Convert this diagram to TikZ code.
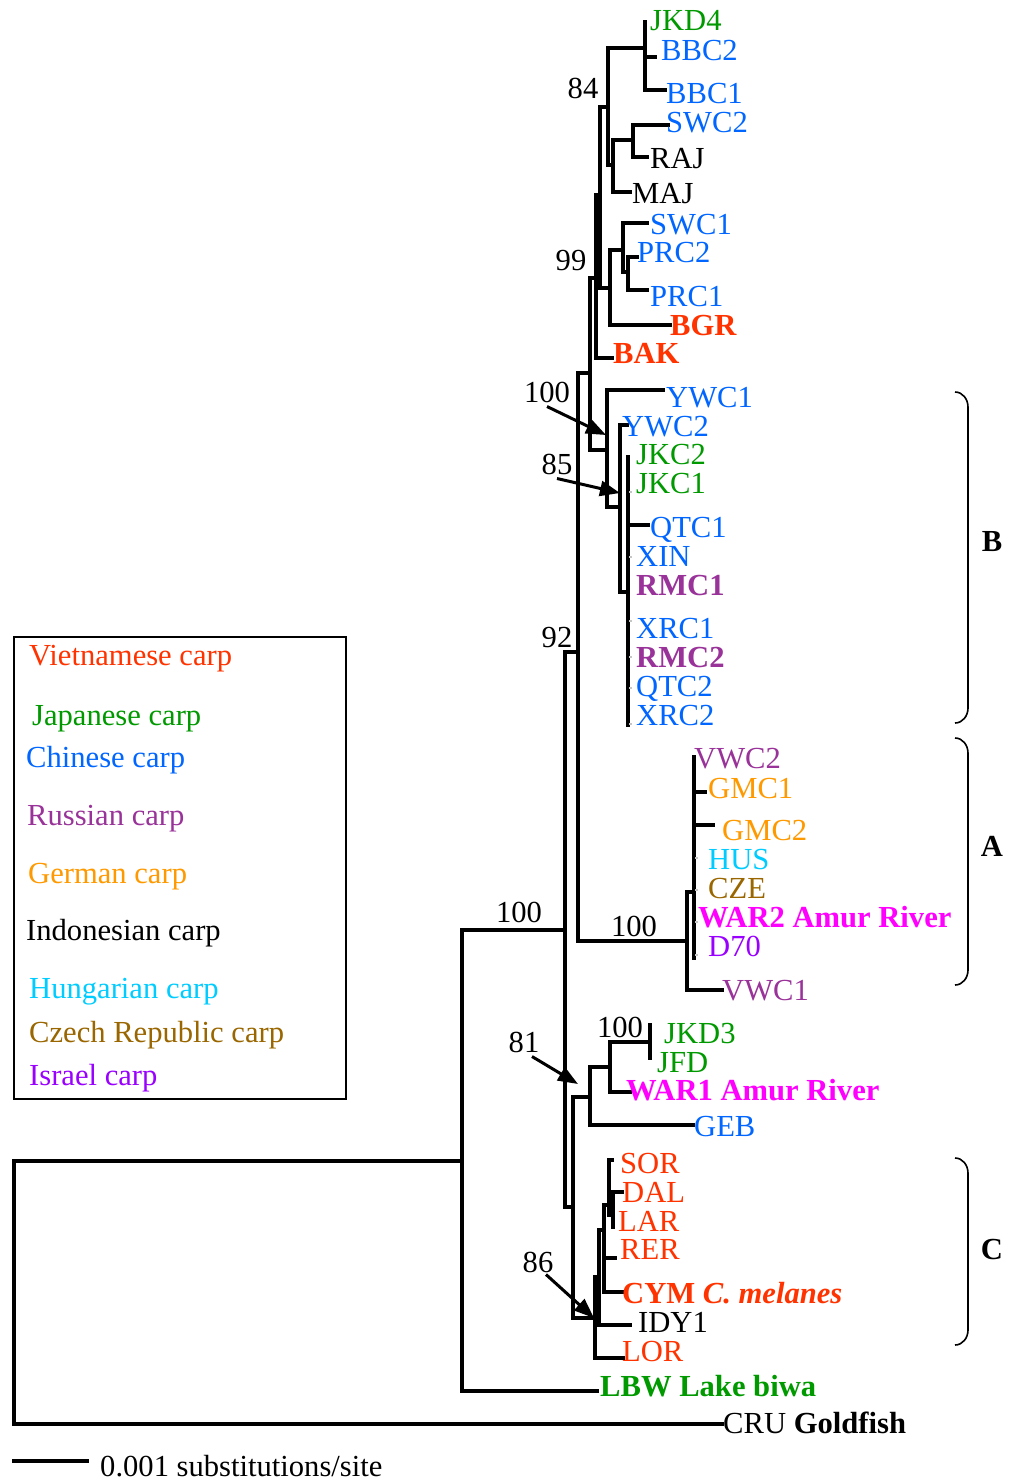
\documentclass[tikz,border=0pt]{standalone}
\usepackage{fontspec}
\setmainfont{Liberation Serif}
\usetikzlibrary{arrows.meta,positioning}

\definecolor{vietred}{HTML}{FF3300}
\definecolor{japgreen}{HTML}{009900}
\definecolor{chiblue}{HTML}{0066FF}
\definecolor{ruspurple}{HTML}{993399}
\definecolor{gerorange}{HTML}{FF9900}
\definecolor{hungcyan}{HTML}{00CCFF}
\definecolor{czebrown}{HTML}{996600}
\definecolor{isrviolet}{HTML}{9900FF}
\definecolor{amurmag}{HTML}{FF00FF}

\newcommand{\treefont}{\fontsize{30.6}{35}\selectfont}

\tikzset{
  branch/.style={line width=3.5pt, line cap=rect},
  zerotick/.style={draw=gray!45, line width=1.6pt},
  tip/.style={anchor=base west, inner sep=0pt, font=\treefont},
  boldtip/.style={tip, font=\treefont\bfseries},
  boot/.style={anchor=base, inner sep=0pt, font=\treefont},
  legtext/.style={anchor=base west, inner sep=0pt, font=\treefont},
  cladebrace/.style={line width=1.6pt},
  cladeletter/.style={anchor=base, inner sep=0pt, font=\treefont\bfseries},
  bootarrow/.style={line width=3pt, -{Triangle[length=20pt,width=15pt]}}
}

\begin{document}
\begin{tikzpicture}[x=1pt, y=-1pt, font=\treefont]
  \useasboundingbox (0,0) rectangle (1015,1481);

  % Legend
  \draw[line width=2pt] (14,637) rectangle (346,1099);
  \node[legtext, text=vietred] (lgviet) at (29,665) {Vietnamese carp};
  \node[legtext, text=japgreen] (lgjap) at (32,725) {Japanese carp};
  \node[legtext, text=chiblue] (lgchi) at (26,767) {Chinese carp};
  \node[legtext, text=ruspurple] (lgrus) at (27,825) {Russian carp};
  \node[legtext, text=gerorange] (lgger) at (28,883) {German carp};
  \node[legtext, text=black] (lgind) at (26,940) {Indonesian carp};
  \node[legtext, text=hungcyan] (lghun) at (29,998) {Hungarian carp};
  \node[legtext, text=czebrown] (lgcze) at (29,1042) {Czech Republic carp};
  \node[legtext, text=isrviolet] (lgisr) at (29,1085) {Israel carp};

  % Backbone
  \draw[branch] (462,1161) -| (14,1424) -- (722,1424);
  \draw[branch] (565,930) -| (462,1391) -- (597,1391);
  \draw[branch] (578,652) -| (565,1207) -- (573,1207);
  \draw[branch] (590,373) -| (578,941) -- (687,941);

  % Upper clade
  \draw[branch] (596,278) -| (590,450) -- (607,450);
  \draw[branch] (600,195) -| (596,358) -- (612,358);
  \draw[branch] (608,107) -| (600,288) -- (610,288);
  \draw[branch] (645,48) -| (608,165) -- (613,165);
  \draw[branch] (645,22) -- (645,90) -- (665,90);
  \draw[branch] (645,57) -- (655,57);
  \draw[branch] (633,140) -| (613,192) -- (630,192);
  \draw[branch] (668,125) -| (633,157) -- (647,157);
  \draw[branch] (623,250) -| (610,325) -- (670,325);
  \draw[branch] (647,223) -| (623,272) -- (628,272);
  \draw[branch] (637,257) -| (628,290) -- (647,290);

  % Clade B
  \draw[branch] (663,390) -| (607,507) -- (620,507);
  \draw[branch] (627,425) -| (620,592) -- (628,592);
  \draw[branch] (628,457) -- (628,725);
  \draw[branch] (628,525) -- (648,525);
  \foreach \yy in {492,557,621,657,688,724}
    \draw[zerotick] (629,\yy) -- (632,\yy);

  % Clade A
  \draw[branch] (694,892) -| (687,990) -- (722,990);
  \draw[branch] (694,757) -- (694,958);
  \draw[branch] (694,792) -- (705,792);
  \draw[branch] (694,825) -- (713,825);
  \foreach \yy in {858,890,922,955}
    \draw[zerotick] (695,\yy) -- (698,\yy);

  % Lower clade and clade C
  \draw[branch] (590,1097) -| (573,1318) -- (595,1318);
  \draw[branch] (610,1067) -| (590,1125) -- (693,1125);
  \draw[branch] (650,1042) -| (610,1092) -- (630,1092);
  \draw[branch] (650,1025) -- (650,1058);
  \draw[branch] (599,1277) -| (595,1358) -- (623,1358);
  \draw[branch] (604,1230) -| (599,1325) -- (630,1325);
  \draw[branch] (609,1205) -| (604,1292) -- (622,1292);
  \draw[branch] (604,1258) -- (615,1258);
  \draw[branch] (612,1160) -| (609,1215);
  \draw[branch] (609,1210) -- (613,1210);
  \draw[branch] (622,1192) -| (613,1227);

  % Tip labels
  \node[tip, text=japgreen] (jkdfour) at (650,30) {JKD4};
  \node[tip, text=chiblue] (bbctwo) at (661,60) {BBC2};
  \node[tip, text=chiblue] (bbcone) at (666,103) {BBC1};
  \node[tip, text=chiblue] (swctwo) at (666,132) {SWC2};
  \node[tip, text=black] (raj) at (650,168) {RAJ};
  \node[tip, text=black] (maj) at (632,203) {MAJ};
  \node[tip, text=chiblue] (swcone) at (650,234) {SWC1};
  \node[tip, text=chiblue] (prctwo) at (637,262) {PRC2};
  \node[tip, text=chiblue] (prcone) at (650,306) {PRC1};
  \node[boldtip, text=vietred] (bgr) at (670,335) {BGR};
  \node[boldtip, text=vietred] (bak) at (613,363) {BAK};
  \node[tip, text=chiblue] (ywcone) at (666,407) {YWC1};
  \node[tip, text=chiblue] (ywctwo) at (622,436) {YWC2};
  \node[tip, text=japgreen] (jkctwo) at (636,464) {JKC2};
  \node[tip, text=japgreen] (jkcone) at (636,493) {JKC1};
  \node[tip, text=chiblue] (qtcone) at (650,537) {QTC1};
  \node[tip, text=chiblue] (xin) at (636,566) {XIN};
  \node[boldtip, text=ruspurple] (rmcone) at (636,595) {RMC1};
  \node[tip, text=chiblue] (xrcone) at (636,638) {XRC1};
  \node[boldtip, text=ruspurple] (rmctwo) at (636,667) {RMC2};
  \node[tip, text=chiblue] (qtctwo) at (636,696) {QTC2};
  \node[tip, text=chiblue] (xrctwo) at (636,725) {XRC2};
  \node[tip, text=ruspurple] (vwctwo) at (694,768) {VWC2};
  \node[tip, text=gerorange] (gmcone) at (708,798) {GMC1};
  \node[tip, text=gerorange] (gmctwo) at (722,840) {GMC2};
  \node[tip, text=hungcyan] (hus) at (708,869) {HUS};
  \node[tip, text=czebrown] (cze) at (708,898) {CZE};
  \node[boldtip, text=amurmag] (wartwo) at (698,927) {WAR2 Amur River};
  \node[tip, text=isrviolet] (dseventy) at (708,956) {D70};
  \node[tip, text=ruspurple] (vwcone) at (722,1000) {VWC1};
  \node[tip, text=japgreen] (jkdthree) at (664,1043) {JKD3};
  \node[tip, text=japgreen] (jfd) at (657,1072) {JFD};
  \node[boldtip, text=amurmag] (warone) at (626,1100) {WAR1 Amur River};
  \node[tip, text=chiblue] (geb) at (694,1136) {GEB};
  \node[tip, text=vietred] (sor) at (620,1173) {SOR};
  \node[tip, text=vietred] (dal) at (622,1202) {DAL};
  \node[tip, text=vietred] (lar) at (618,1231) {LAR};
  \node[tip, text=vietred] (rer) at (620,1259) {RER};
  \node[boldtip, text=vietred] (cym) at (622,1303) {CYM \textit{C. melanes}};
  \node[tip, text=black] (idyone) at (638,1332) {IDY1};
  \node[tip, text=vietred] (lor) at (622,1361) {LOR};
  \node[boldtip, text=japgreen] (lbw) at (600,1396) {LBW Lake biwa};
  \node[tip, text=black] (cru) at (723,1433) {CRU \textbf{Goldfish}};

  % Bootstrap values
  \node[boot] (bseightyfour) at (583,98) {84};
  \node[boot] (bsninetynine) at (571,270) {99};
  \node[boot] (bshundreda) at (547,402) {100};
  \node[boot] (bseightyfive) at (557,474) {85};
  \node[boot] (bsninetytwo) at (557,647) {92};
  \node[boot] (bshundredb) at (519,922) {100};
  \node[boot] (bshundredc) at (634,936) {100};
  \node[boot] (bseightyone) at (524,1052) {81};
  \node[boot] (bshundredd) at (620,1037) {100};
  \node[boot] (bseightysix) at (538,1272) {86};

  \coordinate (tipa) at (606,435);
  \coordinate (tipb) at (620,493);
  \coordinate (tipc) at (578,1084);
  \coordinate (tipd) at (594,1318);
  \draw[bootarrow] ([yshift=-4pt]bshundreda.south) -- (tipa);
  \draw[bootarrow] ([yshift=-4pt]bseightyfive.south) -- (tipb);
  \draw[bootarrow] ([xshift=8pt,yshift=-4pt]bseightyone.south) -- (tipc);
  \draw[bootarrow] ([xshift=8pt,yshift=-2pt]bseightysix.south) -- (tipd);

  % Clade brackets
  \draw[cladebrace] (955,392) to[out=0,in=90] (968,407) -- (968,708) to[out=-90,in=0] (955,723);
  \draw[cladebrace] (955,738) to[out=0,in=90] (968,753) -- (968,970) to[out=-90,in=0] (955,985);
  \draw[cladebrace] (955,1158) to[out=0,in=90] (968,1173) -- (968,1330) to[out=-90,in=0] (955,1345);
  \node[cladeletter] (cladeb) at (992,551) {B};
  \node[cladeletter] (cladea) at (992,856) {A};
  \node[cladeletter] (cladec) at (992,1259) {C};

  % Scale bar
  \draw[branch] (14,1461) coordinate (sbl) -- (87,1461) coordinate (sbr);
  \node[legtext] (sbtext) at (100,1476) {0.001 substitutions/site};
\end{tikzpicture}
\end{document}
